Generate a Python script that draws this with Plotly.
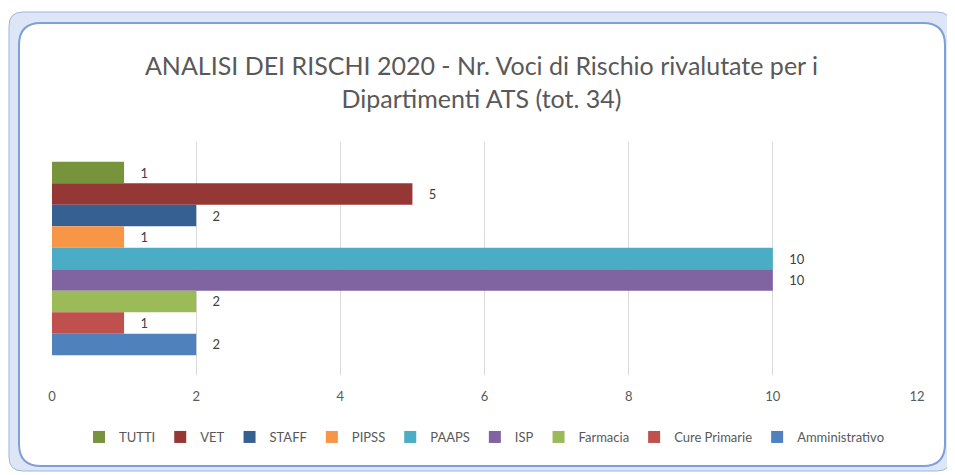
import plotly.graph_objects as go

# series, top to bottom as in the chart
departments = ["TUTTI", "VET", "STAFF", "PIPSS", "PAAPS", "ISP", "Farmacia", "Cure Primarie", "Amministrativo"]
counts = [1, 5, 2, 1, 10, 10, 2, 1, 2]
colors = ["#77933C", "#953735", "#376092", "#F79646", "#4BACC6", "#8064A2", "#9BBB59", "#C0504D", "#4F81BD"]
x_ticks = [0, 2, 4, 6, 8, 10, 12]

# the page body has an 8px margin, so the figure sits at (8, 8)
OFF = 8
W, H = 955 - OFF, 475 - OFF
ML, MR, MT, MB = 44, 38, 134, 100
PW, PH = W - ML - MR, H - MT - MB


def px2paper(px, py):
    # page pixel -> paper coords
    return (px - OFF - ML) / PW, (H - MB - (py - OFF)) / PH


def rounded_rect(x0, y0, x1, y1, r):
    def p(x, y):
        a, b = px2paper(x, y)
        return f"{a:.5f},{b:.5f}"
    pts = [
        "M" + p(x0 + r, y0),
        "L" + p(x1 - r, y0),
        "Q" + p(x1, y0) + " " + p(x1, y0 + r),
        "L" + p(x1, y1 - r),
        "Q" + p(x1, y1) + " " + p(x1 - r, y1),
        "L" + p(x0 + r, y1),
        "Q" + p(x0, y1) + " " + p(x0, y1 - r),
        "L" + p(x0, y0 + r),
        "Q" + p(x0, y0) + " " + p(x0 + r, y0),
    ]
    return " ".join(pts) + " Z"


fig = go.Figure()
for name, val, col in zip(departments, counts, colors):
    fig.add_trace(go.Bar(
        y=[""], x=[val], name=name, orientation="h",
        marker=dict(color=col, line=dict(width=0)),
        text=["    " + str(val)], textposition="outside",
        textfont=dict(family="Lato", size=13, color="#404040"),
        cliponaxis=False,
    ))

fig.update_layout(
    width=W, height=H,
    margin=dict(l=ML, r=MR, t=MT, b=MB),
    paper_bgcolor="white",
    plot_bgcolor="rgba(0,0,0,0)",
    barmode="group",
    bargap=0.17,
    bargroupgap=0,
    title=dict(
        text="ANALISI DEI RISCHI 2020 - Nr. Voci di Rischio rivalutate per i<br>Dipartimenti ATS (tot. 34)",
        x=0.5, xanchor="center", y=1 - 67 / H, yanchor="middle",
        font=dict(family="Lato", size=25, color="#595959"),
    ),
    font=dict(family="Lato", color="#595959"),
    xaxis=dict(
        range=[0, 12], tickvals=x_ticks, showgrid=True, gridcolor="#d9d9d9",
        gridwidth=1, zeroline=False, showline=False, ticks="",
        tickfont=dict(size=13, color="#595959"), ticklabelstandoff=12,
    ),
    yaxis=dict(autorange="reversed", showticklabels=False, showgrid=False, zeroline=False),
    legend=dict(
        orientation="h", x=0.5, xanchor="center", y=(367 - 429) / PH, yanchor="middle",
        font=dict(size=13, color="#595959"), traceorder="normal",
        itemwidth=30,
    ),
    showlegend=True,
    shapes=[
        dict(type="path", xref="paper", yref="paper", layer="below",
             path=rounded_rect(9, 12, 951, 471, 14),
             fillcolor="#dce6f7", line=dict(color="#9fb6e3", width=1)),
        dict(type="path", xref="paper", yref="paper", layer="below",
             path=rounded_rect(19, 23, 945, 466, 22),
             fillcolor="white", line=dict(color="#7f9fd8", width=2)),
    ],
)

fig.write_html("out.html")
